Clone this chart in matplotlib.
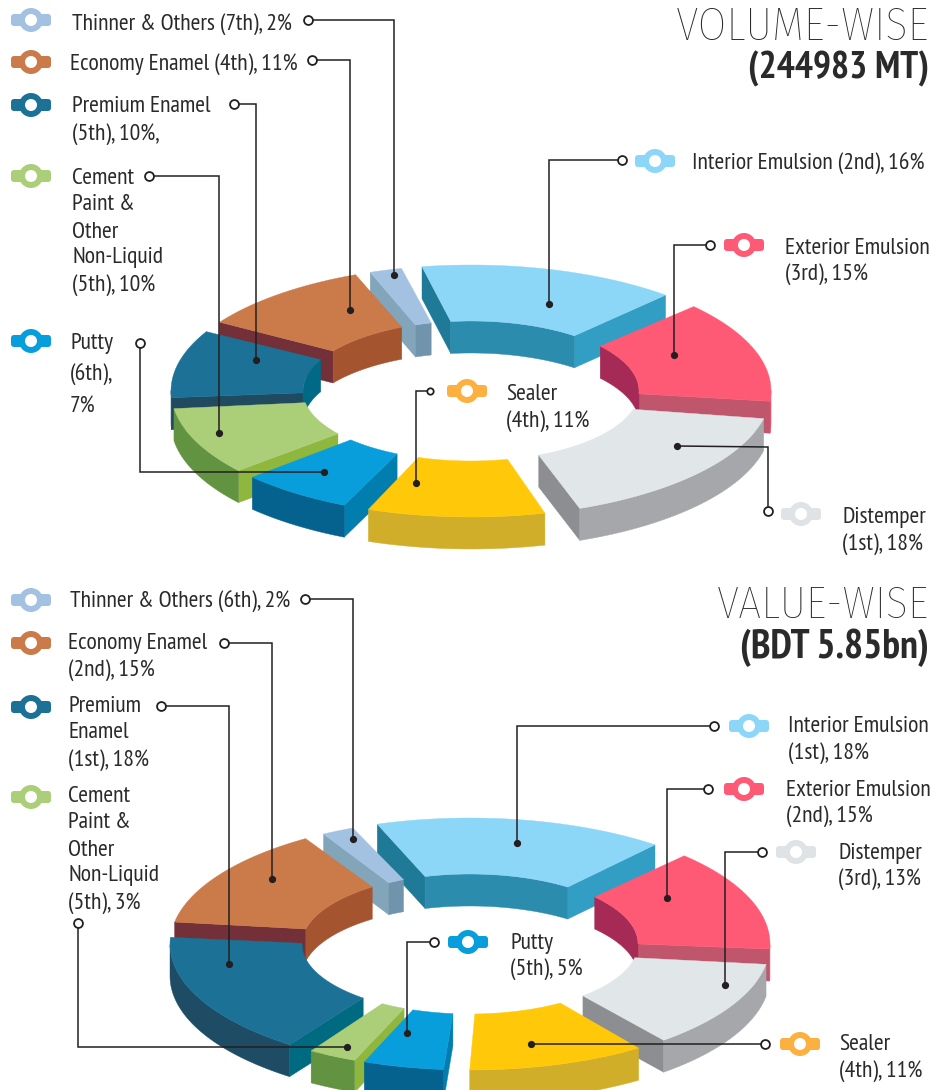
import numpy as np
import matplotlib
matplotlib.use("Agg")
import matplotlib.pyplot as plt
from matplotlib import font_manager as fm
from matplotlib.patches import Polygon, Circle, FancyBboxPatch

categories = ["Interior Emulsion", "Exterior Emulsion", "Distemper", "Sealer", "Putty",
              "Cement Paint & Other Non-Liquid", "Premium Enamel", "Economy Enamel", "Thinner & Others"]
volume_share = [16, 15, 18, 11, 7, 10, 10, 11, 2]
value_share = [18, 15, 13, 11, 5, 3, 18, 15, 2]

volume_labels = [["Interior Emulsion (2nd), 16%"], ["Exterior Emulsion", "(3rd), 15%"], ["Distemper", "(1st), 18%"],
                 ["Sealer", "(4th), 11%"], ["Putty", "(6th),", "7%"],
                 ["Cement", "Paint &", "Other", "Non-Liquid", "(5th), 10%"], ["Premium Enamel", "(5th), 10%,"],
                 ["Economy Enamel (4th), 11%"], ["Thinner & Others (7th), 2%"]]
value_labels = [["Interior Emulsion", "(1st), 18%"], ["Exterior Emulsion", "(2nd), 15%"], ["Distemper", "(3rd), 13%"],
                ["Sealer", "(4th), 11%"], ["Putty", "(5th), 5%"],
                ["Cement", "Paint &", "Other", "Non-Liquid", "(5th), 3%"], ["Premium", "Enamel", "(1st), 18%"],
                ["Economy Enamel", "(2nd), 15%"], ["Thinner & Others (6th), 2%"]]

# colours: top, outer wall, inner wall, start side, end side
colors = [
    ("#8CD6F8", "#339EC3", "#2B8CAE", "#1E7A96", "#339EC3"),
    ("#FF5A75", "#E8506C", "#A62A56", "#C0566C", "#C0566C"),
    ("#E1E6E9", "#A5A7AA", "#A5A7AA", "#8C8E92", "#8C8E92"),
    ("#FFC90A", "#D1AE2A", "#D1AE2A", "#D1AE2A", "#D1AE2A"),
    ("#079EDB", "#05618E", "#05618E", "#017EAD", "#05618E"),
    ("#ABCE78", "#629340", "#629340", "#8FB73E", "#629340"),
    ("#1B7296", "#1D4C64", "#006A86", "#1F4A60", "#1F4A60"),
    ("#CB7A4A", "#A55430", "#A55430", "#733038", "#733038"),
    ("#A3C1E0", "#82A5BA", "#7094AC", "#82A5BA", "#82A5BA"),
]
icon_colors = ["#8CD6F8", "#FF5A75", "#DFE3E6", "#FBB040", "#079EDB", "#ABCE78", "#1B7296", "#CB7A4A", "#A3C1E0"]

# layout, in pixels of the 934x1090 picture
volume_icons = [(655, 161), (744, 245), (801, 514), (467, 391), (31, 341), (31, 176), (31, 105), (31, 62), (31, 20)]
value_icons = [(749, 726), (744, 789), (796, 852), (800, 1044), (468, 942), (31, 797), (31, 707), (31, 643), (31, 600)]

volume_text = [(692, [164]), (785, [248, 274]), (842, [517, 544]), (506, [394, 421]), (70, [343, 375, 407]),
               (72, [178, 205, 232, 258, 285]), (72, [107, 134]), (70, [64]), (72, [24])]
value_text = [(788, [726, 753]), (786, [790, 816]), (838, [853, 879]), (839, [1045, 1071]), (510, [943, 969]),
              (68, [797, 823, 850, 876, 903]), (68, [707, 733, 760]), (68, [643, 670]), (70, [602])]

volume_leaders = [
    [(622, 160), (549, 160), (549, 304)], [(710, 245), (674, 245), (674, 355)], [(768, 511), (768, 447), (677, 446)],
    [(430, 391), (416, 391), (416, 483)], [(140, 343), (140, 472), (324, 472)], [(149, 176), (219, 176), (219, 433)],
    [(234, 104), (256, 104), (256, 360)], [(312, 60), (350, 60), (350, 310)], [(308, 20), (394, 20), (394, 275)],
]
value_leaders = [
    [(714, 726), (517, 726), (517, 843)], [(708, 789), (667, 789), (667, 898)], [(762, 852), (725, 852), (725, 985)],
    [(765, 1044), (531, 1044)], [(434, 942), (407, 942), (407, 1033)], [(78, 923), (78, 1047), (347, 1047)],
    [(161, 706), (229, 706), (229, 964)], [(224, 643), (272, 643), (272, 879)], [(305, 599), (353, 599), (353, 839)],
]

# degrees left open after each slice
volume_gaps = [7.5, 8, 7, 5, 4, 5, 5, 3, 4]
value_gaps = [7.5, 7, 6, 5, 2, 5, 7, 4, 5]

installed = {f.name for f in fm.fontManager.ttflist}
ink = "#2B2A2A"


def pick(names):
    for n in names:
        if n in installed:
            return n
    return "DejaVu Sans"


narrow = pick(["PT Sans Narrow", "Fira Sans Condensed", "Roboto Condensed", "Open Sans Condensed"])
light = pick(["Fira Sans Condensed", "Roboto Condensed", "Open Sans Condensed", "Roboto"])
stretch = "condensed" if narrow == "DejaVu Sans" else "normal"

fig = plt.figure(figsize=(9.34, 10.9), dpi=100)
ax = fig.add_axes([0, 0, 1, 1])
ax.set_xlim(0, 934)
ax.set_ylim(1090, 0)
ax.axis("off")


def fit_size(text, width, **kw):
    # font size that makes this text the wanted width in pixels
    t = ax.text(0, 0, text, fontsize=20, **kw)
    w = t.get_window_extent(fig.canvas.get_renderer()).width
    t.remove()
    return 20 * width / w


label_size = min(fit_size("Thinner & Others (7th), 2%", 220, family=narrow, fontstretch=stretch), 19)


def ring_point(theta, cx, cy, a, b):
    t = np.radians(theta)
    return np.column_stack([cx + a * np.sin(t), cy - b * np.cos(t)])


def wall(pts, depth, color, z):
    # only the stretch that runs leftwards on screen faces the viewer
    keep = np.diff(pts[:, 0]) < 0
    if not keep.any():
        return
    idx = np.where(keep)[0]
    run = pts[idx[0]:idx[-1] + 2]
    low = run[::-1] + [0, depth]
    ax.add_patch(Polygon(np.vstack([run, low]), closed=True, fc=color, ec=color, lw=0.3, zorder=z))


def draw_ring(shares, start, gaps, cx, cy, colors, depth=32):
    shares = np.array(shares, dtype=float)
    scale = (360 - sum(gaps)) / shares.sum()
    slices = []
    theta = start
    for i in range(len(shares)):
        sweep = shares[i] * scale
        inset = min(2.5, sweep * 0.05)
        th = np.linspace(theta, theta + sweep, 50)
        th_in = np.linspace(theta + inset, theta + sweep - inset, 50)
        outer = ring_point(th, cx, cy, 300, 126)
        inner = ring_point(th_in[::-1], cx, cy, 168, 70)
        slices.append((np.vstack([outer, inner])[:, 1].mean(), i, outer, inner))
        theta += sweep + gaps[i]
    # back to front
    slices.sort(key=lambda s: s[0])
    for z, (_, i, outer, inner) in enumerate(slices):
        top, c_out, c_in, c_start, c_end = colors[i]
        zz = 2 + z * 0.1
        wall(np.vstack([inner[-1], outer[0]]), depth, c_start, zz)
        wall(np.vstack([outer[-1], inner[0]]), depth, c_end, zz)
        wall(inner, depth, c_in, zz)
        wall(outer, depth, c_out, zz)
        ax.add_patch(Polygon(np.vstack([outer, inner]), closed=True, fc=top, ec=top, lw=0.3, zorder=zz + 0.05))


def draw_icon(x, y, color):
    ax.add_patch(FancyBboxPatch((x - 17, y - 3), 34, 6, boxstyle="round,pad=3", fc=color, ec="none", zorder=6))
    ax.add_patch(Circle((x, y), 12, fc=color, ec="none", zorder=6))
    ax.add_patch(Circle((x, y), 6, fc="white", ec="none", zorder=7))


def draw_leader(path, ms=6.4):
    xs = [p[0] for p in path]
    ys = [p[1] for p in path]
    ax.plot(xs, ys, color="#231F20", lw=1.1, zorder=8, solid_joinstyle="miter")
    ax.plot(xs[0], ys[0], "o", ms=ms, mfc="white", mec="#231F20", mew=1.3, zorder=9)
    ax.plot(xs[-1], ys[-1], "o", ms=4.2, color="#231F20", zorder=9)


def draw_labels(labels, layout):
    for lines, (x, ys) in zip(labels, layout):
        for line, y in zip(lines, ys):
            ax.text(x, y, line, family=narrow, fontstretch=stretch, fontsize=label_size, color=ink,
                    va="center", ha="left", zorder=10)


def draw_title(y1, y2, light_text, bold_text, w1, w2):
    ax.text(929, y1, light_text, family=light, fontweight="light", color=ink, ha="right", va="center",
            fontsize=fit_size(light_text, w1, family=light, fontweight="light"))
    ax.text(929, y2, bold_text, family=narrow, fontstretch=stretch, fontweight="bold", color=ink, ha="right", va="center",
            fontsize=fit_size(bold_text, w2, family=narrow, fontstretch=stretch, fontweight="bold"))


draw_ring(volume_share, -9.4, volume_gaps, 471, 391, colors)
value_colors = list(colors)
value_colors[6] = ("#1B7296", "#1D4C64", "#006A86", "#006A80", "#1F4A60")
draw_ring(value_share, -18, value_gaps, 470, 944, value_colors)

for i in range(len(categories)):
    draw_icon(*volume_icons[i], icon_colors[i])
    draw_icon(*value_icons[i], icon_colors[i])
    draw_leader(volume_leaders[i], ms=4.6 if categories[i] == "Sealer" else 6.4)
    draw_leader(value_leaders[i])

draw_labels(volume_labels, volume_text)
draw_labels(value_labels, value_text)

draw_title(27, 69, "VOLUME-WISE", "(244983 MT)", 253, 181)
draw_title(605, 648, "VALUE-WISE", "(BDT 5.85bn)", 212, 189)

fig.savefig("out.png", dpi=100, facecolor="white")
